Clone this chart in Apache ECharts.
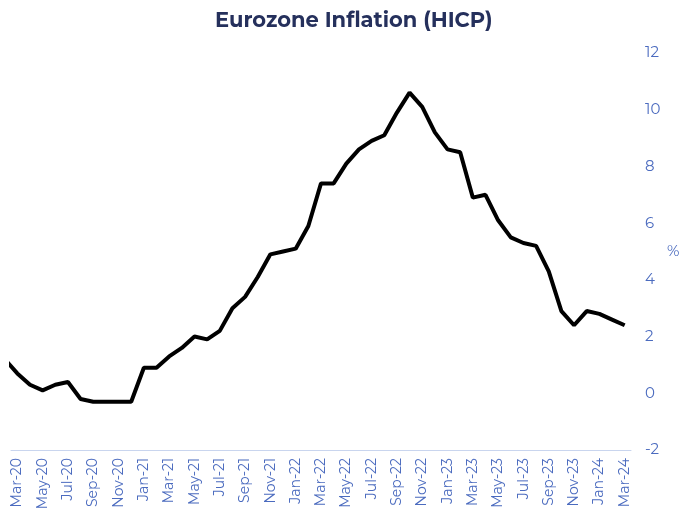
<!DOCTYPE html>
<html>
<head>
<meta charset="utf-8">
<script src="https://cdn.jsdelivr.net/npm/echarts@6/dist/echarts.min.js"></script>
<style>
  html, body { margin: 0; padding: 0; background: #fff; }
  #chart { width: 685px; height: 514px; }
</style>
</head>
<body>
<div id="chart"></div>
<script>
// monthly categories, Feb-20 is only there so the line enters from the left edge
const months = [
  "Feb-20", "Mar-20", "Apr-20", "May-20", "Jun-20", "Jul-20", "Aug-20", "Sep-20", "Oct-20", "Nov-20", "Dec-20",
  "Jan-21", "Feb-21", "Mar-21", "Apr-21", "May-21", "Jun-21", "Jul-21", "Aug-21", "Sep-21", "Oct-21", "Nov-21", "Dec-21",
  "Jan-22", "Feb-22", "Mar-22", "Apr-22", "May-22", "Jun-22", "Jul-22", "Aug-22", "Sep-22", "Oct-22", "Nov-22", "Dec-22",
  "Jan-23", "Feb-23", "Mar-23", "Apr-23", "May-23", "Jun-23", "Jul-23", "Aug-23", "Sep-23", "Oct-23", "Nov-23", "Dec-23",
  "Jan-24", "Feb-24", "Mar-24",
];
const hicp = [
  1.2, 0.7, 0.3, 0.1, 0.3, 0.4, -0.2, -0.3, -0.3, -0.3, -0.3,
  0.9, 0.9, 1.3, 1.6, 2.0, 1.9, 2.2, 3.0, 3.4, 4.1, 4.9, 5.0,
  5.1, 5.9, 7.4, 7.4, 8.1, 8.6, 8.9, 9.1, 9.9, 10.6, 10.1, 9.2,
  8.6, 8.5, 6.9, 7.0, 6.1, 5.5, 5.3, 5.2, 4.3, 2.9, 2.4, 2.9,
  2.8, 2.6, 2.4,
];
const yTicks = { min: -2, max: 12, step: 2 };

const labelColor = "#4b6bbf";
const font = "Montserrat, 'Noto Sans', sans-serif";

const chart = echarts.init(document.getElementById("chart"));
const option = {
  animation: false,
  title: {
    text: "Eurozone Inflation (HICP)",
    left: 210,
    top: 5,
    textStyle: {
      color: "#25305c",
      fontSize: 21,
      fontWeight: "bold",
      fontFamily: font,
    },
  },
  grid: {
    left: 11,
    right: 54,
    top: 53,
    bottom: 64,
  },
  xAxis: {
    type: "category",
    data: months,
    min: 1,
    boundaryGap: true,
    axisLine: {
      onZero: false,
      lineStyle: { color: "#c9d5ee", width: 1 },
    },
    axisTick: { show: false },
    axisLabel: {
      rotate: 90,
      color: labelColor,
      fontSize: 14,
      fontFamily: font,
      margin: 8,
      interval: (index) => index % 2 === 1,
    },
    splitLine: { show: false },
  },
  yAxis: {
    type: "value",
    position: "right",
    min: yTicks.min,
    max: yTicks.max,
    interval: yTicks.step,
    name: "%",
    nameLocation: "middle",
    nameRotate: 0,
    nameGap: 36,
    nameTextStyle: {
      color: labelColor,
      fontSize: 15,
      fontFamily: font,
    },
    axisLine: { show: false },
    axisTick: { show: false },
    splitLine: { show: false },
    axisLabel: {
      color: labelColor,
      fontSize: 15,
      fontFamily: font,
      margin: 14,
    },
  },
  series: [
    {
      name: "HICP",
      type: "line",
      data: hicp,
      symbol: "none",
      clip: true,
      lineStyle: { color: "#000000", width: 4 },
    },
  ],
};
chart.setOption(option);
</script>
</body>
</html>
